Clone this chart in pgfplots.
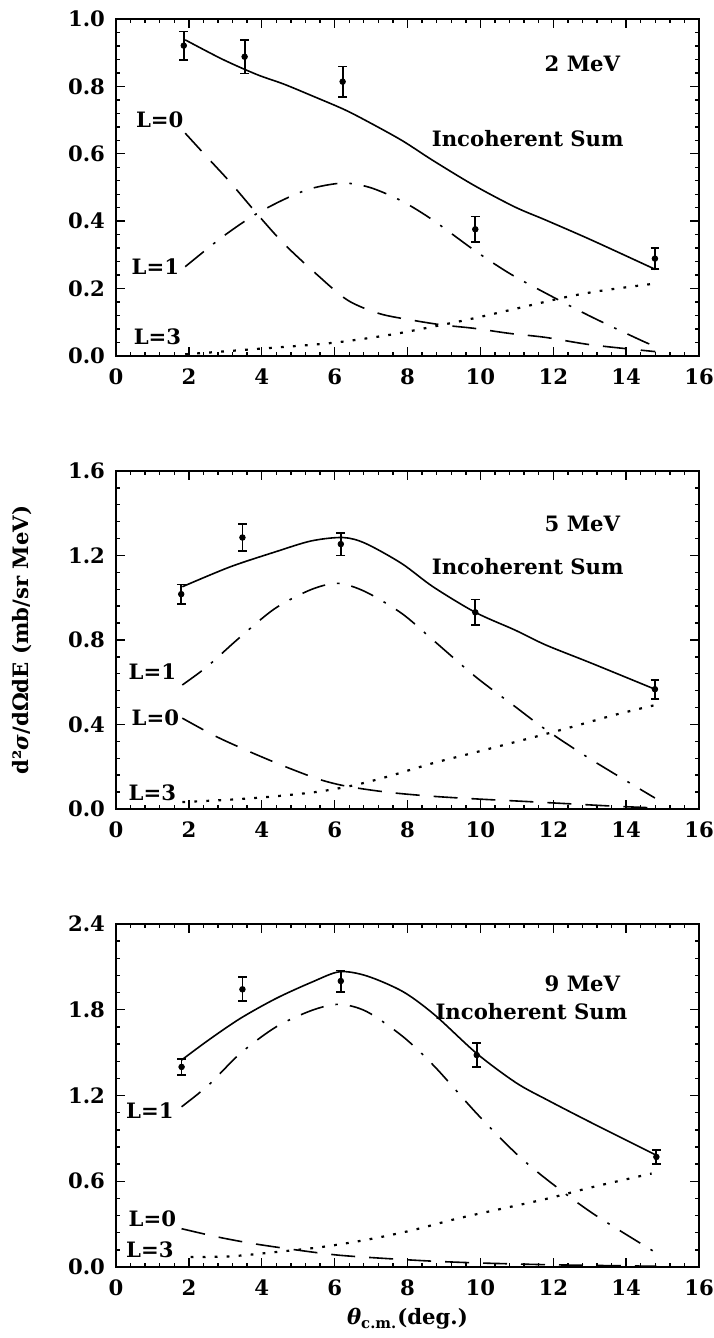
\documentclass[border=0pt]{standalone}
\usepackage{pgfplots}
\pgfplotsset{compat=1.18}
\usepackage{fontspec}
\setmainfont{DejaVu Serif}
\newcommand{\lbl}{\bfseries\fontsize{10.6}{12}\selectfont}
\pgfplotsset{
  panel/.style={
    scale only axis, width=291.5pt,
    xmin=0, xmax=16, ymin=0,
    xtick={0,2,...,16},
    minor x tick num=4, minor y tick num=4,
    tick align=inside,
    major tick length=4.5pt, minor tick length=2.2pt,
    every tick/.style={line width=0.7pt, black},
    axis line style={line width=1pt},
    tick label style={font=\lbl},
    yticklabel style={/pgf/number format/fixed, /pgf/number format/fixed zerofill, /pgf/number format/precision=1, xshift=-2pt},
    xticklabel style={yshift=-3pt},
    clip=false,
  },
  /pgf/number format/assume math mode=true,
  sumc/.style={black, line width=0.8pt, smooth, tension=0.5},
  lzero/.style={black, line width=0.8pt, smooth, tension=0.5, dash pattern=on 12pt off 7pt},
  lone/.style={black, line width=0.8pt, smooth, tension=0.5, dash pattern=on 12pt off 6pt on 1.3pt off 6pt},
  lthree/.style={black, line width=1.1pt, smooth, tension=0.5, dash pattern=on 1.4pt off 4.6pt},
  dat/.style={only marks, mark=*, mark size=1.4pt, black,
    error bars/.cd, y dir=both, y explicit,
    error bar style={line width=0.9pt},
    error mark options={rotate=90, mark size=2.2pt, line width=0.9pt}},
}
\begin{document}
\begin{tikzpicture}
\useasboundingbox (0,0) rectangle (356.5pt,669pt);
% ---------------- Panel 1: 2 MeV
\begin{axis}[panel, at={(58pt,491pt)}, anchor=south west, height=168.5pt,
  ymax=1.0, ytick={0,0.2,...,1.0}]
\addplot[sumc] coordinates {(1.9,0.938) (2.93,0.88) (3.87,0.835) (4.6,0.807) (5.36,0.773) (6.23,0.733) (6.85,0.699) (7.84,0.64) (8.7,0.58) (9.83,0.506) (10.95,0.442) (11.8,0.403) (13.05,0.344) (14.8,0.257)};
\addplot[lone] coordinates {(1.9,0.265) (2.88,0.35) (3.75,0.415) (4.6,0.464) (5.36,0.497) (6.23,0.513) (6.97,0.50) (7.84,0.46) (8.7,0.403) (9.83,0.314) (10.8,0.245) (11.8,0.186) (13.05,0.116) (14.5,0.042) (14.8,0.03)};
\addplot[lzero] coordinates {(1.9,0.661) (2.5,0.59) (3.13,0.516) (3.87,0.422) (4.6,0.334) (5.48,0.245) (6.35,0.166) (7.22,0.126) (8.09,0.107) (8.96,0.092) (9.83,0.082) (10.8,0.067) (11.8,0.055) (13.05,0.033) (14.8,0.013)};
\addplot[lthree] coordinates {(1.9,0.005) (3.75,0.02) (5.86,0.038) (7.47,0.062) (8.7,0.087) (9.83,0.112) (11.2,0.146) (12.4,0.176) (13.4,0.195) (14.8,0.215)};
\addplot[dat] coordinates {(1.86,0.921) +- (0,0.042) (3.53,0.888) +- (0,0.05) (6.22,0.814) +- (0,0.045) (9.86,0.376) +- (0,0.038) (14.79,0.289) +- (0,0.031)};
\node[font=\lbl] at (axis cs:12.8,0.867) {2 MeV};
\node[font=\lbl] at (axis cs:11.3,0.645) {Incoherent Sum};
\node[font=\lbl] at (axis cs:1.2,0.70) {L=0};
\node[font=\lbl] at (axis cs:1.08,0.265) {L=1};
\node[font=\lbl] at (axis cs:1.14,0.057) {L=3};
\end{axis}
% ---------------- Panel 2: 5 MeV
\begin{axis}[panel, at={(58pt,264.5pt)}, anchor=south west, height=169pt,
  ymax=1.6, ytick={0,0.4,...,1.6},
  ylabel={d²{\itshape σ}/dΩdE (mb/sr MeV)},
  ylabel style={font=\lbl, at={(axis description cs:-0.161,0.5)}, anchor=center}]
\addplot[sumc] coordinates {(1.82,1.052) (3.13,1.146) (4.37,1.217) (5.36,1.269) (6.23,1.285) (6.85,1.257) (7.84,1.162) (8.7,1.052) (9.86,0.931) (10.95,0.847) (11.8,0.776) (13.05,0.69) (14.79,0.567)};
\addplot[lone] coordinates {(1.82,0.587) (2.5,0.674) (3.37,0.808) (4.37,0.95) (5.36,1.039) (6.1,1.068) (6.85,1.028) (7.84,0.926) (8.7,0.80) (9.86,0.627) (10.95,0.485) (11.8,0.375) (13.05,0.233) (14.79,0.052)};
\addplot[lzero] coordinates {(1.82,0.43) (2.75,0.343) (3.75,0.265) (4.74,0.194) (5.6,0.139) (6.35,0.107) (7.47,0.079) (8.7,0.06) (9.95,0.047) (11.2,0.036) (12.4,0.025) (13.7,0.013) (14.8,0.005)};
\addplot[lthree] coordinates {(1.82,0.033) (3.13,0.044) (4.37,0.06) (5.6,0.083) (6.6,0.115) (7.47,0.154) (8.7,0.217) (9.95,0.272) (11.2,0.328) (12.4,0.383) (13.7,0.446) (14.75,0.49)};
\addplot[dat] coordinates {(1.79,1.017) +- (0,0.046) (3.47,1.285) +- (0,0.065) (6.17,1.254) +- (0,0.054) (9.86,0.931) +- (0,0.061) (14.79,0.567) +- (0,0.045)};
\node[font=\lbl] at (axis cs:12.8,1.351) {5 MeV};
\node[font=\lbl] at (axis cs:11.3,1.146) {Incoherent Sum};
\node[font=\lbl] at (axis cs:1.0,0.65) {L=1};
\node[font=\lbl] at (axis cs:1.08,0.43) {L=0};
\node[font=\lbl] at (axis cs:1.0,0.076) {L=3};
\end{axis}
% ---------------- Panel 3: 9 MeV
\begin{axis}[panel, at={(58pt,35.5pt)}, anchor=south west, height=171.5pt,
  ymax=2.4, ytick={0,0.6,...,2.4},
  xlabel={{\itshape θ}\textsubscript{c.m.}(deg.)},
  xlabel style={font=\lbl, at={(axis description cs:0.5,-0.152)}, anchor=center}]
\addplot[sumc] coordinates {(1.8,1.448) (2.54,1.588) (3.41,1.739) (4.4,1.88) (5.4,1.996) (6.14,2.066) (6.89,2.036) (7.88,1.926) (8.75,1.763) (9.9,1.494) (10.98,1.289) (11.85,1.167) (13.09,1.004) (14.83,0.782)};
\addplot[lone] coordinates {(1.8,1.121) (2.54,1.273) (3.41,1.494) (4.4,1.681) (5.4,1.798) (6.14,1.838) (6.89,1.786) (7.88,1.611) (8.75,1.401) (9.9,1.074) (10.98,0.794) (11.85,0.607) (13.09,0.374) (14.83,0.098)};
\addplot[lzero] coordinates {(1.8,0.268) (2.79,0.21) (3.78,0.163) (5.02,0.117) (6.14,0.082) (7.5,0.058) (8.75,0.04) (9.99,0.028) (11.85,0.016) (13.7,0.009) (14.83,0.005)};
\addplot[lthree] coordinates {(2.05,0.07) (3.16,0.075) (4.4,0.105) (5.65,0.14) (6.89,0.191) (8.13,0.257) (9.37,0.339) (10.61,0.409) (11.85,0.479) (13.09,0.56) (14.7,0.654)};
\addplot[dat] coordinates {(1.8,1.40) +- (0,0.055) (3.47,1.943) +- (0,0.084) (6.17,2.001) +- (0,0.074) (9.9,1.483) +- (0,0.085) (14.83,0.77) +- (0,0.05)};
\node[font=\lbl] at (axis cs:12.8,1.985) {9 MeV};
\node[font=\lbl] at (axis cs:11.4,1.786) {Incoherent Sum};
\node[font=\lbl] at (axis cs:0.93,1.097) {L=1};
\node[font=\lbl] at (axis cs:1.0,0.339) {L=0};
\node[font=\lbl] at (axis cs:0.93,0.117) {L=3};
\end{axis}
\end{tikzpicture}
\end{document}
